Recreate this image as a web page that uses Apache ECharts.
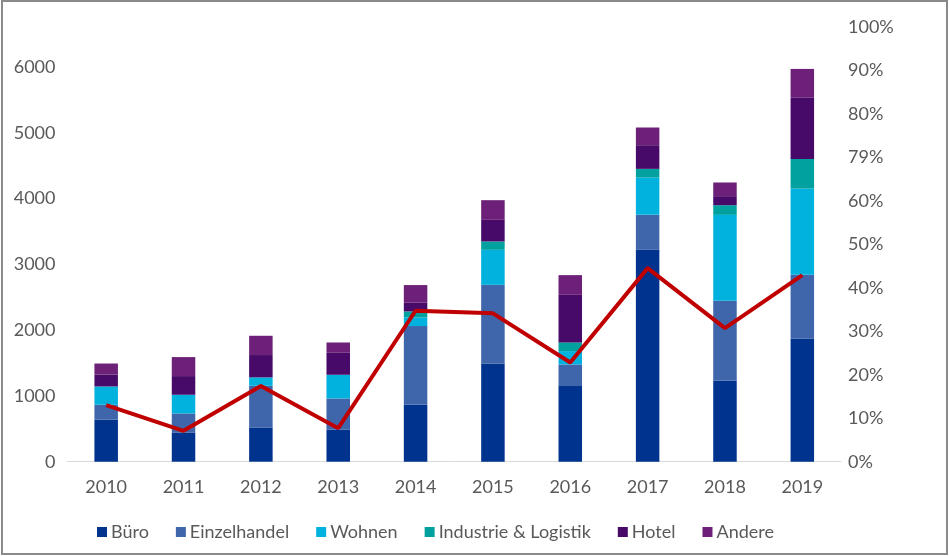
<!DOCTYPE html>
<html>
<head>
<meta charset="utf-8">
<script src="https://cdn.jsdelivr.net/npm/echarts@6/dist/echarts.min.js"></script>
<style>
html,body{margin:0;padding:0;background:#fff;}
#chart{width:949px;height:556px;}
</style>
</head>
<body>
<div id="chart"></div>
<script>
const years = ['2010','2011','2012','2013','2014','2015','2016','2017','2018','2019'];
const buero        = [638, 445, 521, 486, 866, 1494, 1150, 3222, 1231, 1874];
const einzelhandel = [228, 289, 634, 476, 1196, 1196, 329, 532, 1216, 968];
const wohnen       = [278, 284, 127, 360, 132, 532, 203, 567, 1307, 1312];
const industrie    = [0, 0, 0, 0, 91, 127, 132, 132, 147, 451];
const hotel        = [182, 284, 340, 334, 132, 329, 724, 360, 137, 932];
const andere       = [167, 289, 293, 157, 269, 299, 299, 269, 208, 436];
const anteil       = [0.130, 0.071, 0.174, 0.077, 0.347, 0.341, 0.228, 0.445, 0.307, 0.429];
const rightTickLabels = ['0%','10%','20%','30%','40%','50%','60%','79%','80%','90%','100%'];

const seriesNames = ['Büro','Einzelhandel','Wohnen','Industrie & Logistik','Hotel','Andere'];
const seriesData = [buero, einzelhandel, wohnen, industrie, hotel, andere];
const colors = ['#00338D','#3F66AA','#00B2DD','#00A19E','#470A68','#6D2077'];

const font = 'Lato';
const textColor = '#595959';

const chart = echarts.init(document.getElementById('chart'));
const barSeries = seriesNames.map((n, i) => ({
  name: n,
  type: 'bar',
  stack: 'total',
  barWidth: 23.5,
  yAxisIndex: 0,
  itemStyle: { color: colors[i] },
  data: seriesData[i]
}));

chart.setOption({
  animation: false,
  color: colors,
  graphic: [{
    type: 'rect',
    shape: { x: 2, y: 1, width: 945, height: 553 },
    style: { fill: 'none', stroke: '#8a8a8a', lineWidth: 2 },
    silent: true
  }],
  grid: { left: 67.5, right: 108, top: 26.7, bottom: 94.3 },
  legend: {
    data: seriesNames,
    left: 92,
    top: 518,
    itemWidth: 10,
    itemHeight: 10,
    itemGap: 27,
    icon: 'rect',
    textStyle: { fontFamily: font, fontSize: 18, color: textColor, padding: [0,0,0,-1] }
  },
  xAxis: {
    type: 'category',
    data: years,
    axisLine: { lineStyle: { color: '#d9d9d9', width: 1 } },
    axisTick: { show: false },
    axisLabel: { fontFamily: font, fontSize: 18, color: textColor, margin: 16 }
  },
  yAxis: [{
    type: 'value',
    min: 0,
    max: 6615,
    interval: 1000,
    splitLine: { show: false },
    axisLine: { show: false },
    axisTick: { show: false },
    axisLabel: {
      fontFamily: font, fontSize: 18, color: textColor, margin: 12, showMaxLabel: false,
      formatter: v => String(v)
    }
  }, {
    type: 'value',
    min: 0,
    max: 1,
    interval: 0.1,
    splitLine: { show: false },
    axisLine: { show: false },
    axisTick: { show: false },
    axisLabel: {
      fontFamily: font, fontSize: 18, color: textColor, margin: 7,
      formatter: v => rightTickLabels[Math.round(v * 10)]
    }
  }],
  series: barSeries.concat([{
    name: 'Anteil',
    type: 'line',
    yAxisIndex: 1,
    symbol: 'none',
    lineStyle: { color: '#C00000', width: 4 },
    itemStyle: { color: '#C00000' },
    data: anteil,
    z: 5
  }])
});
</script>
</body>
</html>
